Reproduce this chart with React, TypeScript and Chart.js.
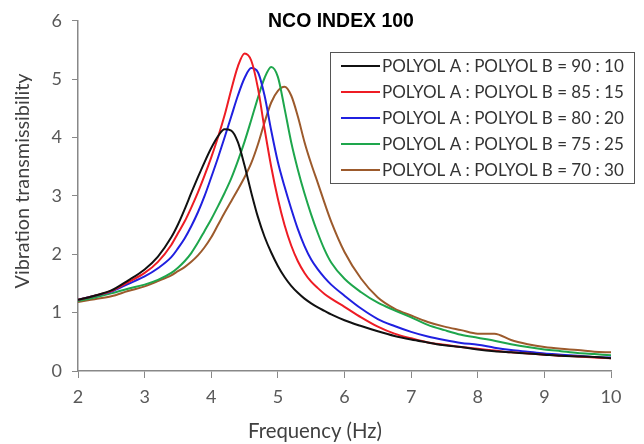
import React, { useEffect, useRef } from "react";
import { Chart, registerables } from "chart.js";

Chart.register(...registerables);

const freq = [2.0, 2.25, 2.5, 2.75, 3.0, 3.2, 3.4,
  3.5, 3.6, 3.7, 3.8, 3.9, 4.0, 4.1, 4.2, 4.3, 4.4, 4.5, 4.6, 4.7, 4.8, 4.9, 5.0, 5.1, 5.2, 5.3, 5.4, 5.5, 5.6, 5.7, 5.8,
  6.0, 6.25, 6.5, 6.75, 7.0, 7.25, 7.5, 7.75, 8.0, 8.25, 8.5, 8.75, 9.0, 9.25, 9.5, 9.75, 10.0];

const s90_10 = [1.22, 1.29, 1.38, 1.55, 1.74, 1.96, 2.29,
  2.51, 2.77, 3.05, 3.32, 3.58, 3.82, 4.02, 4.14, 4.12, 3.92, 3.52, 3.06, 2.64, 2.3, 2.03, 1.8, 1.61, 1.46, 1.34, 1.24, 1.16, 1.09, 1.03, 0.97,
  0.87, 0.77, 0.68, 0.6, 0.54, 0.49, 0.44, 0.41, 0.37, 0.34, 0.32, 0.3, 0.28, 0.26, 0.25, 0.24, 0.22];
const s85_15 = [1.22, 1.29, 1.37, 1.52, 1.68, 1.87, 2.16,
  2.36, 2.56, 2.8, 3.06, 3.35, 3.66, 4.0, 4.38, 4.82, 5.22, 5.44, 5.32, 4.85, 4.15, 3.5, 2.95, 2.5, 2.15, 1.88, 1.68, 1.53, 1.42, 1.32, 1.24,
  1.1, 0.92, 0.76, 0.64, 0.56, 0.49, 0.45, 0.41, 0.38, 0.35, 0.32, 0.3, 0.28, 0.26, 0.25, 0.23, 0.22];
const s80_20 = [1.22, 1.29, 1.36, 1.49, 1.62, 1.76, 1.95,
  2.1, 2.27, 2.48, 2.72, 3.0, 3.32, 3.65, 4.0, 4.36, 4.72, 5.02, 5.19, 5.12, 4.72, 4.12, 3.58, 3.16, 2.78, 2.43, 2.14, 1.91, 1.74, 1.6, 1.48,
  1.29, 1.07, 0.89, 0.77, 0.67, 0.59, 0.53, 0.48, 0.45, 0.4, 0.36, 0.33, 0.3, 0.28, 0.26, 0.24, 0.23];
const s75_25 = [1.2, 1.26, 1.33, 1.41, 1.48, 1.56, 1.68,
  1.77, 1.88, 2.02, 2.2, 2.4, 2.6, 2.82, 3.05, 3.3, 3.6, 3.93, 4.3, 4.68, 5.02, 5.21, 5.04, 4.5, 3.92, 3.45, 3.04, 2.68, 2.36, 2.08, 1.86,
  1.58, 1.35, 1.17, 1.04, 0.92, 0.79, 0.7, 0.62, 0.57, 0.52, 0.46, 0.41, 0.37, 0.34, 0.31, 0.29, 0.27];
const s70_30 = [1.18, 1.23, 1.28, 1.37, 1.45, 1.54, 1.64,
  1.71, 1.78, 1.87, 1.98, 2.12, 2.29, 2.5, 2.71, 2.91, 3.11, 3.32, 3.56, 3.88, 4.26, 4.6, 4.8, 4.87, 4.72, 4.36, 3.92, 3.55, 3.22, 2.88, 2.56,
  2.04, 1.58, 1.26, 1.07, 0.95, 0.84, 0.76, 0.7, 0.64, 0.64, 0.53, 0.46, 0.41, 0.38, 0.36, 0.33, 0.32];

const seriesLabels = [
  "POLYOL A : POLYOL B = 90 : 10",
  "POLYOL A : POLYOL B = 85 : 15",
  "POLYOL A : POLYOL B = 80 : 20",
  "POLYOL A : POLYOL B = 75 : 25",
  "POLYOL A : POLYOL B = 70 : 30",
];
const seriesValues = [s90_10, s85_15, s80_20, s75_25, s70_30];
const seriesColors = ["#111111", "#ee1c24", "#2020e0", "#1ea64c", "#9c5a2c"];

const chartTitle = "NCO INDEX 100";
const xTitle = "Frequency (Hz)";
const yTitle = "Vibration transmissibility";

const SANS = "Lato, 'Liberation Sans', sans-serif";
const ARIAL = "'Liberation Sans', Arial, sans-serif";

function fitFont(ctx: CanvasRenderingContext2D, text: string, family: string, weight: string, width: number) {
  ctx.font = `${weight} 100px ${family}`;
  const w = ctx.measureText(text).width;
  const size = (100 * width) / w;
  ctx.font = `${weight} ${size.toFixed(2)}px ${family}`;
}

const innerPlugin = {
  id: "innerDecor",
  afterDraw(chart: any) {
    const ctx: CanvasRenderingContext2D = chart.ctx;
    ctx.save();
    // title
    ctx.fillStyle = "#000";
    fitFont(ctx, chartTitle, ARIAL, "bold", 146);
    ctx.textAlign = "center";
    ctx.textBaseline = "middle";
    ctx.fillText(chartTitle, 341, 22);
    // axis titles
    ctx.fillStyle = "#404040";
    fitFont(ctx, xTitle, SANS, "normal", 134);
    ctx.fillText(xTitle, 315, 431);
    ctx.save();
    ctx.translate(23, 181);
    ctx.rotate(-Math.PI / 2);
    fitFont(ctx, yTitle, SANS, "normal", 215);
    ctx.fillText(yTitle, 0, 0);
    ctx.restore();
    // legend
    const bx = 330, by = 52, bw = 304, bh = 131;
    ctx.fillStyle = "#ffffff";
    ctx.fillRect(bx, by, bw, bh);
    ctx.strokeStyle = "#555";
    ctx.lineWidth = 1;
    ctx.strokeRect(bx + 0.5, by + 0.5, bw, bh);
    fitFont(ctx, seriesLabels[0], SANS, "normal", 242);
    ctx.textAlign = "left";
    ctx.textBaseline = "middle";
    chart.data.datasets.forEach((ds: any, i: number) => {
      const y = 66 + i * 26;
      ctx.strokeStyle = ds.borderColor;
      ctx.lineWidth = 2;
      ctx.beginPath();
      ctx.moveTo(341, y);
      ctx.lineTo(380, y);
      ctx.stroke();
      ctx.fillStyle = "#333";
      ctx.fillText(ds.label, 382, y + 1);
    });
    ctx.restore();
  },
};

export default function App() {
  const ref = useRef<HTMLCanvasElement | null>(null);
  useEffect(() => {
    if (!ref.current) return;
    const chart = new Chart(ref.current, {
      type: "line",
      data: {
        datasets: seriesValues.map((vals, i) => ({
          label: seriesLabels[i],
          data: vals.map((v, j) => ({ x: freq[j], y: v })),
          borderColor: seriesColors[i],
          backgroundColor: seriesColors[i],
          borderWidth: 2,
          pointRadius: 0,
          fill: false,
          cubicInterpolationMode: "monotone" as const,
        })),
      },
      options: {
        responsive: false,
        animation: false,
        layout: { padding: { top: 15, right: 33, left: 0, bottom: 0 } },
        plugins: {
          legend: { display: false },
          title: { display: false },
          tooltip: { enabled: false },
        },
        scales: {
          x: {
            type: "linear",
            min: 2,
            max: 10,
            ticks: {
              stepSize: 1,
              color: "#595959",
              font: { family: SANS, size: 18 },
              padding: 8,
            },
            grid: { drawOnChartArea: false, drawTicks: true, tickLength: 7, color: "#888" },
            border: { display: true, color: "#888", width: 1.5 },
            afterFit: (s: any) => { s.height = 73; },
          },
          y: {
            type: "linear",
            min: 0,
            max: 6,
            ticks: {
              stepSize: 1,
              color: "#595959",
              font: { family: SANS, size: 18 },
              padding: 10,
            },
            grid: { drawOnChartArea: false, drawTicks: true, tickLength: 6, color: "#888" },
            border: { display: true, color: "#888", width: 1.5 },
            afterFit: (s: any) => { s.width = 78; },
          },
        },
      },
      plugins: [innerPlugin],
    });
    return () => chart.destroy();
  }, []);
  return (
    <div style={{ position: "fixed", left: 0, top: 0, width: 644, height: 444, background: "#fff" }}>
      <canvas ref={ref} width={644} height={444} style={{ display: "block" }} />
    </div>
  );
}
